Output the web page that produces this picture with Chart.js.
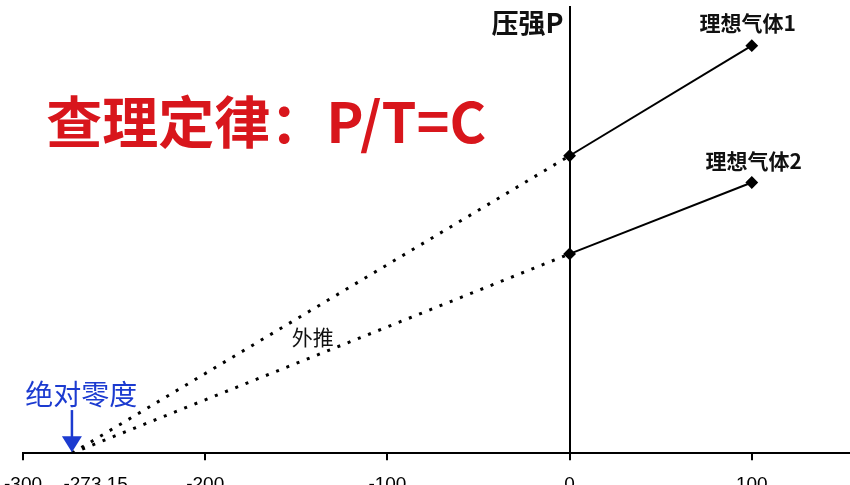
<!DOCTYPE html>
<html lang="zh-CN">
<head>
    <meta charset="UTF-8">
    <title>查理定律</title>
    <script src="https://cdn.jsdelivr.net/npm/chart.js"></script>
    <style>
        html, body {
            margin: 0;
            padding: 0;
            width: 850px;
            height: 485px;
            background: #fff;
            overflow: hidden;
        }
        #chart-container {
            position: relative;
            width: 850px;
            height: 485px;
            overflow: hidden;
        }
        #myChart {
            position: absolute;
            left: -9px;
            top: 0;
        }
    </style>
</head>
<body>
    <div id="chart-container">
        <canvas id="myChart" width="868" height="509"></canvas>
    </div>

    <script>
        // 温度 (°C) 与压强 (相对单位)
        const zeroPoint = -273.15;
        const tempMeasured = [0, 100];
        const gas1Pressure = [1.0, 1.37];
        const gas2Pressure = [0.67, 0.91];
        const xTicks = [-300, -273.15, -200, -100, 0, 100];

        // 文字标注: [文字, x, y]
        const labels = [
            ['查理定律：P/T=C', -166.5, 1.113],
            ['压强P', -3.3, 1.446],
            ['理想气体1', 97.8, 1.446],
            ['理想气体2', 101, 0.982],
            ['外推', -141, 0.39],
            ['绝对零度', -268, 0.198]
        ];
        const arrowTop = 0.145;

        const solid = (vals) => tempMeasured.map((t, i) => ({x: t, y: vals[i]}));
        const dotted = (vals) => [{x: zeroPoint, y: 0}, {x: tempMeasured[0], y: vals[0]}];

        const cjk = '"Noto Sans CJK SC", "Noto Sans", sans-serif';
        const labelStyles = [
            {font: 'bold 56px ' + cjk, color: '#d8161c', align: 'center'},
            {font: 'bold 27px ' + cjk, color: '#111', align: 'right'},
            {font: 'bold 21px ' + cjk, color: '#111', align: 'center'},
            {font: 'bold 21px ' + cjk, color: '#111', align: 'center'},
            {font: '21px ' + cjk, color: '#111', align: 'center'},
            {font: '28px ' + cjk, color: '#1c3bd0', align: 'center'}
        ];

        const notes = {
            id: 'notes',
            afterDatasetsDraw(chart) {
                const ctx = chart.ctx;
                const xs = chart.scales.x;
                const ys = chart.scales.y;
                ctx.save();
                ctx.textBaseline = 'middle';
                labels.forEach((l, i) => {
                    const s = labelStyles[i];
                    ctx.font = s.font;
                    ctx.fillStyle = s.color;
                    ctx.textAlign = s.align;
                    ctx.fillText(l[0], xs.getPixelForValue(l[1]), ys.getPixelForValue(l[2]));
                });

                // 指向绝对零度的箭头
                const ax = xs.getPixelForValue(zeroPoint);
                const tip = ys.getPixelForValue(0) - 1;
                const top = ys.getPixelForValue(arrowTop);
                ctx.strokeStyle = '#1c3bd0';
                ctx.fillStyle = '#1c3bd0';
                ctx.lineWidth = 2.5;
                ctx.beginPath();
                ctx.moveTo(ax, top);
                ctx.lineTo(ax, tip - 14);
                ctx.stroke();
                ctx.beginPath();
                ctx.moveTo(ax - 10, tip - 16);
                ctx.lineTo(ax + 10, tip - 16);
                ctx.lineTo(ax, tip);
                ctx.closePath();
                ctx.fill();
                ctx.restore();
            }
        };

        new Chart(document.getElementById('myChart'), {
            type: 'line',
            data: {
                datasets: [
                    {
                        label: '理想气体1',
                        data: solid(gas1Pressure),
                        borderColor: '#000',
                        backgroundColor: '#000',
                        borderWidth: 2,
                        pointStyle: 'rectRot',
                        pointRadius: 5,
                        tension: 0
                    },
                    {
                        label: '理想气体2',
                        data: solid(gas2Pressure),
                        borderColor: '#000',
                        backgroundColor: '#000',
                        borderWidth: 2,
                        pointStyle: 'rectRot',
                        pointRadius: 5,
                        tension: 0
                    },
                    {
                        label: '外推1',
                        data: dotted(gas1Pressure),
                        borderColor: '#000',
                        borderWidth: 3,
                        borderDash: [3, 8],
                        pointRadius: 0,
                        tension: 0
                    },
                    {
                        label: '外推2',
                        data: dotted(gas2Pressure),
                        borderColor: '#000',
                        borderWidth: 3,
                        borderDash: [3, 8],
                        pointRadius: 0,
                        tension: 0
                    }
                ]
            },
            options: {
                responsive: false,
                animation: false,
                layout: {padding: {top: 7, left: 0, right: 0, bottom: 0}},
                plugins: {
                    legend: {display: false},
                    tooltip: {enabled: false}
                },
                scales: {
                    x: {
                        type: 'linear',
                        position: 'bottom',
                        min: -300,
                        max: 155,
                        afterBuildTicks: (scale) => {
                            scale.ticks = xTicks.map(v => ({value: v}));
                        },
                        ticks: {
                            color: '#000',
                            padding: 13,
                            maxRotation: 0,
                            autoSkip: false,
                            font: {family: '"Liberation Sans", Arial, sans-serif', size: 19},
                            // 原图中 -273.15 的标签略偏右，避免与 -300 挤在一起
                            callback: (v) => v === zeroPoint ? '         ' + v : String(v)
                        },
                        grid: {
                            drawOnChartArea: false,
                            drawTicks: true,
                            tickLength: 7,
                            lineWidth: 2,
                            color: (c) => (c.tick && c.tick.value === zeroPoint) ? 'rgba(0,0,0,0)' : '#000'
                        },
                        border: {color: '#000', width: 2}
                    },
                    y: {
                        type: 'linear',
                        position: {x: 0},
                        min: 0,
                        max: 1.5,
                        ticks: {display: false},
                        grid: {display: false},
                        border: {color: '#000', width: 2}
                    }
                }
            },
            plugins: [notes]
        });
    </script>
</body>
</html>
